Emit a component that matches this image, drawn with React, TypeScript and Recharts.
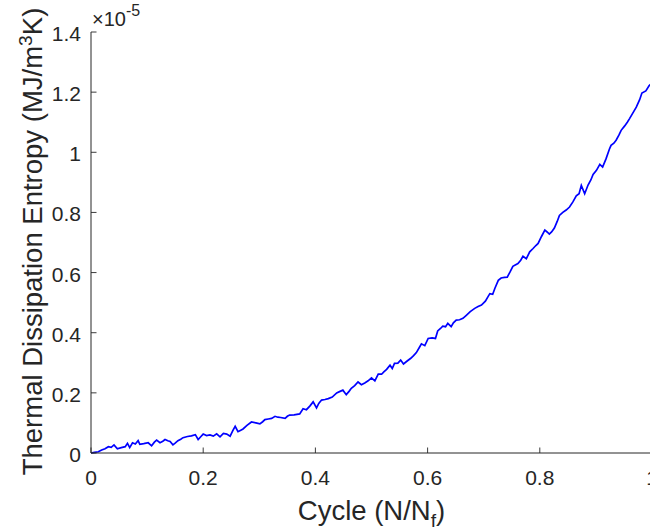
import React from 'react';
import { LineChart, Line, XAxis, YAxis } from 'recharts';

// Cycle fraction N/Nf
const cycle = [
  0.000, 0.006, 0.013, 0.019, 0.025, 0.031, 0.036, 0.041, 0.047, 0.054,
  0.061, 0.065, 0.069, 0.074, 0.079, 0.084, 0.087, 0.094, 0.102, 0.108,
  0.113, 0.117, 0.123, 0.128, 0.132, 0.137, 0.141, 0.146, 0.150, 0.155,
  0.160, 0.164, 0.172, 0.179, 0.186, 0.191, 0.196, 0.200, 0.206, 0.212,
  0.218, 0.224, 0.230, 0.236, 0.242, 0.248, 0.253, 0.257, 0.262, 0.267,
  0.271, 0.278, 0.286, 0.294, 0.301, 0.306, 0.310, 0.316, 0.322, 0.328,
  0.333, 0.338, 0.346, 0.350, 0.354, 0.362, 0.372, 0.378, 0.384, 0.390,
  0.396, 0.402, 0.406, 0.411, 0.417, 0.423, 0.430, 0.438, 0.443, 0.449,
  0.455, 0.460, 0.464, 0.470, 0.476, 0.482, 0.488, 0.494, 0.500, 0.506,
  0.512, 0.518, 0.522, 0.527, 0.533, 0.537, 0.541, 0.547, 0.552, 0.557,
  0.563, 0.570, 0.575, 0.580, 0.585, 0.589, 0.595, 0.601, 0.608, 0.614,
  0.618, 0.623, 0.627, 0.632, 0.636, 0.642, 0.646, 0.651, 0.657, 0.663,
  0.669, 0.676, 0.684, 0.690, 0.696, 0.703, 0.708, 0.711, 0.716, 0.720,
  0.726, 0.731, 0.737, 0.742, 0.747, 0.752, 0.757, 0.761, 0.766, 0.770,
  0.776, 0.782, 0.788, 0.793, 0.797, 0.803, 0.809, 0.813, 0.817, 0.821,
  0.826, 0.831, 0.835, 0.841, 0.847, 0.853, 0.859, 0.865, 0.870, 0.874,
  0.880, 0.886, 0.891, 0.895, 0.901, 0.907, 0.912, 0.918, 0.924, 0.927,
  0.932, 0.936, 0.941, 0.945, 0.951, 0.956, 0.960, 0.966, 0.972, 0.978,
  0.982, 0.989, 0.995, 1.000,
];

// Thermal dissipation entropy, in units of 1e-5 MJ/m^3K
const entropy = [
  0.000, 0.002, 0.004, 0.010, 0.014, 0.021, 0.019, 0.027, 0.014, 0.018,
  0.021, 0.032, 0.018, 0.034, 0.030, 0.041, 0.029, 0.031, 0.034, 0.024,
  0.036, 0.043, 0.034, 0.039, 0.045, 0.041, 0.038, 0.027, 0.033, 0.041,
  0.046, 0.051, 0.055, 0.057, 0.061, 0.045, 0.055, 0.063, 0.058, 0.060,
  0.056, 0.064, 0.054, 0.065, 0.063, 0.056, 0.075, 0.089, 0.071, 0.076,
  0.080, 0.092, 0.103, 0.100, 0.097, 0.104, 0.111, 0.113, 0.115, 0.122,
  0.119, 0.118, 0.115, 0.122, 0.126, 0.127, 0.130, 0.147, 0.144, 0.156,
  0.170, 0.150, 0.165, 0.176, 0.178, 0.181, 0.186, 0.200, 0.204, 0.209,
  0.194, 0.205, 0.215, 0.224, 0.236, 0.227, 0.233, 0.240, 0.250, 0.240,
  0.262, 0.262, 0.270, 0.278, 0.292, 0.281, 0.298, 0.299, 0.309, 0.296,
  0.305, 0.315, 0.324, 0.334, 0.350, 0.363, 0.357, 0.381, 0.383, 0.381,
  0.406, 0.414, 0.422, 0.420, 0.431, 0.420, 0.433, 0.442, 0.443, 0.448,
  0.458, 0.470, 0.481, 0.487, 0.492, 0.505, 0.521, 0.530, 0.528, 0.548,
  0.574, 0.582, 0.584, 0.585, 0.602, 0.621, 0.626, 0.630, 0.641, 0.654,
  0.646, 0.669, 0.680, 0.690, 0.697, 0.720, 0.741, 0.735, 0.728, 0.735,
  0.748, 0.770, 0.790, 0.800, 0.808, 0.818, 0.835, 0.855, 0.862, 0.890,
  0.862, 0.891, 0.908, 0.926, 0.940, 0.960, 0.951, 0.978, 1.010, 1.023,
  1.030, 1.040, 1.057, 1.073, 1.087, 1.100, 1.112, 1.131, 1.150, 1.175,
  1.197, 1.204, 1.222, 1.230,
];

const xTicks = [0, 0.2, 0.4, 0.6, 0.8, 1];
const yTicks = [0, 0.2, 0.4, 0.6, 0.8, 1, 1.2, 1.4];

const xLabelMain = 'Cycle (N/N';
const xLabelSub = 'f';
const xLabelEnd = ')';
const yLabelMain = 'Thermal Dissipation Entropy (MJ/m';
const yLabelSup = '3';
const yLabelEnd = 'K)';
const exponentBase = '\u00D710';
const exponentPower = '-5';

const data = cycle.map((c, i) => ({ cycle: c, entropy: entropy[i] }));

const FONT = '"Liberation Sans", Arial, Helvetica, sans-serif';
const AXIS_COLOR = '#262626';
const TICK_LEN = 5.5;
const TICK_FONT = 21;
const LABEL_FONT = 27.5;

const CHART_W = 670;
const CHART_H = 530;
const MARGIN = { top: 32, right: 18, bottom: 37, left: 31 };
const Y_AXIS_W = 60;
const X_AXIS_H = 40;
const PLOT_LEFT = MARGIN.left + Y_AXIS_W;
const PLOT_TOP = MARGIN.top;
const PLOT_BOTTOM = CHART_H - MARGIN.bottom - X_AXIS_H;
const PLOT_RIGHT = CHART_W - MARGIN.right;

const BottomTick = (props: any) => {
  const { x, y, payload } = props;
  return (
    <g>
      <line x1={x} y1={y} x2={x} y2={y - TICK_LEN} stroke={AXIS_COLOR} strokeWidth={0.9} />
      <text x={x} y={y + 32} textAnchor="middle" fontSize={TICK_FONT} fill={AXIS_COLOR} fontFamily={FONT}>
        {String(payload.value)}
      </text>
    </g>
  );
};

const TopTick = (props: any) => {
  const { x, y } = props;
  return <line x1={x} y1={y} x2={x} y2={y + TICK_LEN} stroke={AXIS_COLOR} strokeWidth={0.9} />;
};

const LeftTick = (props: any) => {
  const { x, y, payload } = props;
  return (
    <g>
      <line x1={x} y1={y} x2={x + TICK_LEN} y2={y} stroke={AXIS_COLOR} strokeWidth={0.9} />
      <text x={x - 10} y={y + 9} textAnchor="end" fontSize={TICK_FONT} fill={AXIS_COLOR} fontFamily={FONT}>
        {String(payload.value)}
      </text>
    </g>
  );
};

const RightTick = (props: any) => {
  const { x, y } = props;
  return <line x1={x} y1={y} x2={x - TICK_LEN} y2={y} stroke={AXIS_COLOR} strokeWidth={0.9} />;
};

const XTitle = () => (
  <text
    x={(PLOT_LEFT + PLOT_RIGHT) / 2}
    y={520}
    textAnchor="middle"
    fontSize={LABEL_FONT}
    fill={AXIS_COLOR}
    fontFamily={FONT}
  >
    {xLabelMain}
    <tspan fontSize={LABEL_FONT * 0.7} dy={7}>{xLabelSub}</tspan>
    <tspan dy={-7}>{xLabelEnd}</tspan>
  </text>
);

const YTitle = () => {
  const cx = 42;
  const cy = (PLOT_TOP + PLOT_BOTTOM) / 2 - 1;
  return (
    <text
      x={cx}
      y={cy}
      transform={`rotate(-90 ${cx} ${cy})`}
      textAnchor="middle"
      fontSize={LABEL_FONT}
      fill={AXIS_COLOR}
      fontFamily={FONT}
    >
      {yLabelMain}
      <tspan fontSize={LABEL_FONT * 0.7} dy={-10}>{yLabelSup}</tspan>
      <tspan dy={10}>{yLabelEnd}</tspan>
    </text>
  );
};

const ExponentLabel = () => (
  <text x={PLOT_LEFT + 1} y={26} textAnchor="start" fontSize={20} fill={AXIS_COLOR} fontFamily={FONT}>
    {exponentBase}
    <tspan fontSize={16} dy={-10}>{exponentPower}</tspan>
  </text>
);

export default function App() {
  return (
    <div
      style={{
        position: 'absolute',
        left: 0,
        top: 0,
        width: 650,
        height: 530,
        overflow: 'hidden',
        background: '#ffffff',
      }}
    >
      <LineChart width={CHART_W} height={CHART_H} data={data} margin={MARGIN}>
        <XAxis
          xAxisId="bottom"
          dataKey="cycle"
          type="number"
          domain={[0, 1]}
          ticks={xTicks}
          interval={0}
          height={X_AXIS_H}
          tickSize={0}
          tickMargin={0}
          tickLine={false}
          axisLine={{ stroke: AXIS_COLOR, strokeWidth: 1 }}
          tick={<BottomTick />}
          label={<XTitle />}
        />
        <XAxis
          xAxisId="top"
          orientation="top"
          dataKey="cycle"
          type="number"
          domain={[0, 1]}
          ticks={xTicks}
          interval={0}
          height={0}
          tickSize={0}
          tickMargin={0}
          tickLine={false}
          axisLine={{ stroke: AXIS_COLOR, strokeWidth: 1 }}
          tick={<TopTick />}
        />
        <YAxis
          yAxisId="left"
          type="number"
          domain={[0, 1.4]}
          ticks={yTicks}
          interval={0}
          width={Y_AXIS_W}
          tickSize={0}
          tickMargin={0}
          tickLine={false}
          axisLine={{ stroke: AXIS_COLOR, strokeWidth: 1 }}
          tick={<LeftTick />}
          label={<YTitle />}
        />
        <YAxis
          yAxisId="right"
          orientation="right"
          type="number"
          domain={[0, 1.4]}
          ticks={yTicks}
          interval={0}
          width={0}
          tickSize={0}
          tickMargin={0}
          tickLine={false}
          axisLine={{ stroke: AXIS_COLOR, strokeWidth: 1 }}
          tick={<RightTick />}
        />
        <Line
          xAxisId="bottom"
          yAxisId="left"
          type="linear"
          dataKey="entropy"
          stroke="#0000FF"
          strokeWidth={1.7}
          dot={false}
          activeDot={false}
          isAnimationActive={false}
        />
        <ExponentLabel />
      </LineChart>
    </div>
  );
}
